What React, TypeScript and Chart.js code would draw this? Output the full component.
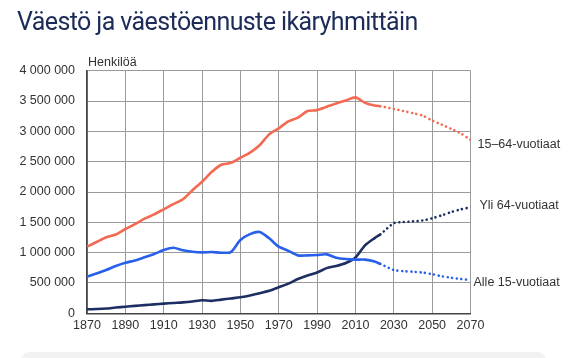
import React, { useEffect, useRef } from "react";
import { Chart, registerables } from "chart.js";

Chart.register(...registerables);

// ---- Data ----
const histYears = [1870, 1875, 1880, 1885, 1890, 1895, 1900, 1905, 1910, 1915, 1920, 1925, 1930, 1935, 1940, 1945, 1950, 1955, 1960, 1965, 1970, 1975, 1980, 1985, 1990, 1995, 2000, 2005, 2010, 2015, 2020, 2023];
const histWorking = [1100000, 1175000, 1255000, 1300000, 1390000, 1470000, 1560000, 1630000, 1715000, 1800000, 1880000, 2030000, 2170000, 2330000, 2450000, 2480000, 2565000, 2650000, 2770000, 2950000, 3050000, 3165000, 3225000, 3335000, 3350000, 3405000, 3460000, 3510000, 3560000, 3470000, 3425000, 3415000];
const histChildren = [603000, 655000, 714000, 780000, 834000, 870000, 923000, 977000, 1043000, 1082000, 1040000, 1016000, 1005000, 1010000, 999000, 1010000, 1208000, 1305000, 1340000, 1236000, 1098000, 1030000, 955000, 955000, 961000, 972000, 917000, 895000, 885000, 885000, 855000, 813000];
const histElderly = [66000, 70000, 78000, 95000, 109000, 122000, 135000, 147000, 159000, 170000, 180000, 195000, 215000, 205000, 225000, 245000, 264000, 295000, 330000, 370000, 430000, 490000, 565000, 625000, 672000, 745000, 780000, 830000, 920000, 1120000, 1240000, 1300000];

const projYears = [2023, 2030, 2035, 2040, 2045, 2050, 2055, 2060, 2065, 2070];
const projWorking = [3415000, 3370000, 3335000, 3300000, 3260000, 3180000, 3110000, 3040000, 2965000, 2860000];
const projChildren = [813000, 714000, 695000, 685000, 672000, 645000, 610000, 585000, 565000, 549000];
const projElderly = [1300000, 1485000, 1505000, 1515000, 1530000, 1566000, 1615000, 1670000, 1714000, 1747000];

const seriesLabels = ["15–64-vuotiaat", "Yli 64-vuotiaat", "Alle 15-vuotiaat"];
const xTicks = [1870, 1890, 1910, 1930, 1950, 1970, 1990, 2010, 2030, 2050, 2070];
const yTicks = [0, 500000, 1000000, 1500000, 2000000, 2500000, 3000000, 3500000, 4000000];
const yAxisTitle = "Henkilöä";
const chartTitle = "Väestö ja väestöennuste ikäryhmittäin";

const RED = "#f26a52";
const BLUE = "#2860ec";
const NAVY = "#1d2f62";

const toPts = (xs: number[], ys: number[]) => xs.map((x, i) => ({ x, y: ys[i] }));
const fmt = (v: number) => String(Math.round(v)).replace(/\B(?=(\d{3})+(?!\d))/g, " ");

export default function App() {
  const ref = useRef<HTMLCanvasElement | null>(null);

  useEffect(() => {
    if (!ref.current) return;
    const solid = (data: any, color: string) => ({
      data,
      borderColor: color,
      backgroundColor: color,
      borderWidth: 2.6,
      pointRadius: 0,
      tension: 0.25,
      fill: false,
    });
    const dotted = (data: any, color: string) => ({
      ...solid(data, color),
      borderDash: [0.01, 4.6],
      borderCapStyle: "round",
      borderWidth: 2.6,
    });

    const labelPlugin = {
      id: "endLabels",
      afterDraw(chart: any) {
        const { ctx, chartArea, scales } = chart;
        ctx.save();
        ctx.font = "12.5px 'Liberation Sans', Arial, sans-serif";
        ctx.fillStyle = "#333";
        ctx.textBaseline = "middle";
        ctx.textAlign = "left";
        const ends = [projWorking[projWorking.length - 1], projElderly[projElderly.length - 1], projChildren[projChildren.length - 1]];
        const offs = [
          { dx: 7, dy: 5 },
          { dx: 9, dy: -2 },
          { dx: 3, dy: 3 },
        ];
        seriesLabels.forEach((t, i) => {
          ctx.fillText(t, chartArea.right + offs[i].dx, scales.y.getPixelForValue(ends[i]) + offs[i].dy);
        });
        ctx.fillText(yAxisTitle, chartArea.left + 1, chartArea.top - 8);
        ctx.restore();
      },
    };

    const chart = new Chart(ref.current, {
      type: "line",
      data: {
        datasets: [
          solid(toPts(histYears, histWorking), RED),
          dotted(toPts(projYears, projWorking), RED),
          solid(toPts(histYears, histChildren), BLUE),
          dotted(toPts(projYears, projChildren), BLUE),
          solid(toPts(histYears, histElderly), NAVY),
          dotted(toPts(projYears, projElderly), NAVY),
        ] as any,
      },
      options: {
        animation: false,
        responsive: false,
        layout: { padding: { left: 0, top: 70.7, right: 108.5, bottom: 14.7 } },
        plugins: { legend: { display: false }, tooltip: { enabled: false }, title: { display: false } },
        scales: {
          x: {
            type: "linear",
            min: 1870,
            max: 2070,
            afterBuildTicks: (s: any) => {
              s.ticks = xTicks.map((v) => ({ value: v }));
            },
            afterFit: (s: any) => {
              s.height = 30;
            },
            ticks: {
              padding: 5,
              color: "#333",
              font: { family: "'Liberation Sans', Arial, sans-serif", size: 12.5 },
              callback: (v: any) => String(v),
              maxRotation: 0,
            },
            grid: { color: "#9a9a9a", lineWidth: 1, drawTicks: false },
            border: { color: "#444", width: 1.6 },
          },
          y: {
            min: 0,
            max: 4000000,
            afterBuildTicks: (s: any) => {
              s.ticks = yTicks.map((v) => ({ value: v }));
            },
            afterFit: (s: any) => {
              s.width = 87;
            },
            ticks: {
              padding: 12,
              color: "#333",
              font: { family: "'Liberation Sans', Arial, sans-serif", size: 12.5 },
              callback: (v: any) => fmt(Number(v)),
            },
            grid: { color: "#9a9a9a", lineWidth: 1, drawTicks: false },
            border: { color: "#444", width: 1.6 },
          },
        },
      },
      plugins: [labelPlugin],
    });
    return () => chart.destroy();
  }, []);

  return (
    <div style={{ position: "absolute", left: 0, top: 0, width: 579, height: 358, overflow: "hidden", background: "#fff" }}>
      <canvas ref={ref} width={579} height={358} style={{ position: "absolute", left: 0, top: 0 }} />
      <div
        style={{
          position: "absolute",
          left: 17,
          top: 7,
          fontFamily: "Roboto, 'Noto Sans', sans-serif",
          fontSize: 25,
          letterSpacing: "-0.6px",
          lineHeight: "30px",
          color: "#1c2b58",
          whiteSpace: "nowrap",
        }}
      >
        {chartTitle}
      </div>
      <div
        style={{
          position: "absolute",
          left: 20,
          top: 352,
          width: 527,
          height: 30,
          borderRadius: 10,
          background: "#f2f2f2",
        }}
      />
    </div>
  );
}
